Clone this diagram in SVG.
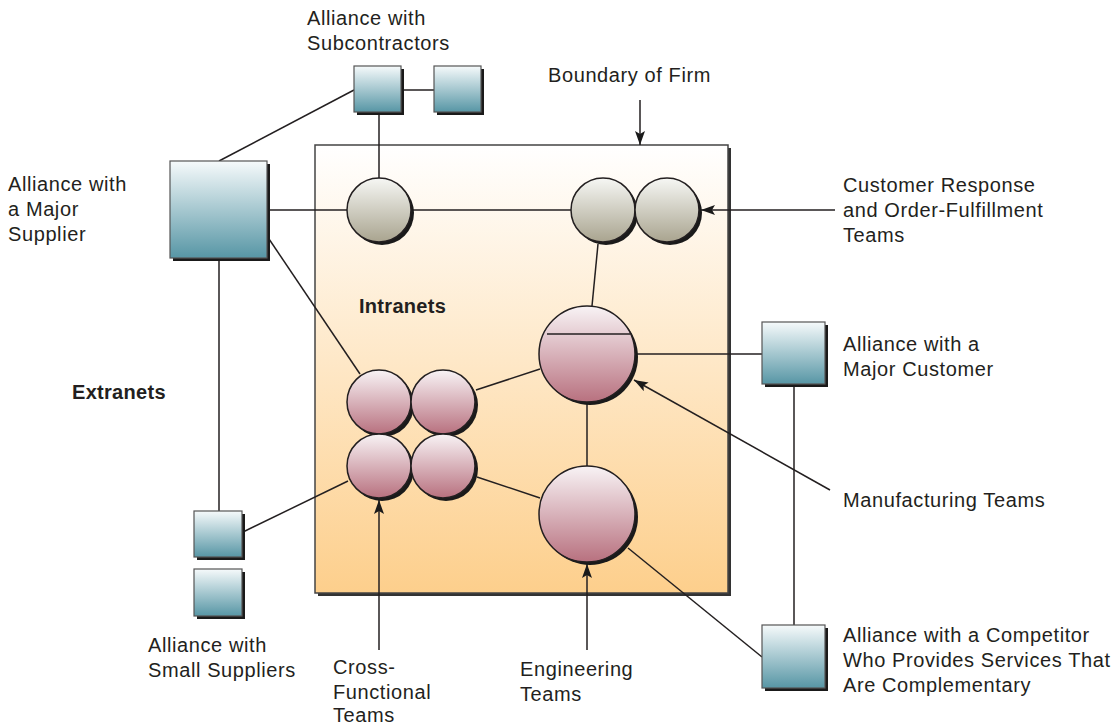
<svg xmlns="http://www.w3.org/2000/svg" width="1112" height="727" viewBox="0 0 1112 727">
<defs>
<linearGradient id="gBox" x1="0" y1="0" x2="0" y2="1"><stop offset="0" stop-color="#f6fafb"/><stop offset="1" stop-color="#5796a5"/></linearGradient>
<linearGradient id="gGray" x1="0" y1="0" x2="0" y2="1"><stop offset="0" stop-color="#f6f7f4"/><stop offset="1" stop-color="#a9a48f"/></linearGradient>
<linearGradient id="gPink" x1="0" y1="0" x2="0" y2="1"><stop offset="0" stop-color="#f8f3f5"/><stop offset="1" stop-color="#b8717f"/></linearGradient>
<linearGradient id="gFirm" x1="0" y1="0" x2="0" y2="1"><stop offset="0" stop-color="#ffffff"/><stop offset="1" stop-color="#fdcf8c"/></linearGradient>
<marker id="arr" viewBox="0 0 14 10" refX="14" refY="5" markerWidth="14" markerHeight="10" markerUnits="userSpaceOnUse" orient="auto"><path d="M0,0 L14,5 L0,10 L3,5 Z" fill="#1a1a1a"/></marker>
</defs>
<style>
text{font-family:"Liberation Sans",Arial,sans-serif;font-size:20px;letter-spacing:0.6px;fill:#231f20}
.b{font-weight:bold;letter-spacing:0.3px}
.ln{stroke:#231f20;stroke-width:1.5;fill:none}
.box{fill:url(#gBox);stroke:#555;stroke-width:1.2}
.gc{fill:url(#gGray);stroke:#231f20;stroke-width:1.5}
.pc{fill:url(#gPink);stroke:#231f20;stroke-width:1.5}
.sh{fill:#1a1a1a}
</style>
<rect width="1112" height="727" fill="#fff"/>
<g id="firm">
<rect x="318" y="148" width="413" height="448" fill="#333"/>
<rect x="315" y="145" width="413" height="448" fill="url(#gFirm)" stroke="#444" stroke-width="1.5"/>
</g>
<g id="connectors">
<line class="ln" x1="354" y1="90" x2="219" y2="161"/>
<line class="ln" x1="401" y1="90" x2="434" y2="90"/>
<line class="ln" x1="379" y1="112" x2="379" y2="178"/>
<line class="ln" x1="267" y1="210" x2="347" y2="210"/>
<line class="ln" x1="411" y1="210" x2="571" y2="210"/>
<line class="ln" x1="267" y1="236" x2="360" y2="374"/>
<line class="ln" x1="219" y1="258" x2="219" y2="511"/>
<line class="ln" x1="243" y1="532" x2="348" y2="481"/>
<line class="ln" x1="598" y1="244" x2="592" y2="306"/>
<line class="ln" x1="476" y1="390" x2="540" y2="369"/>
<line class="ln" x1="635" y1="354" x2="762" y2="354"/>
<line class="ln" x1="587" y1="402" x2="587" y2="466"/>
<line class="ln" x1="477" y1="477" x2="540" y2="498"/>
<line class="ln" x1="628" y1="548" x2="762" y2="657"/>
<line class="ln" x1="794" y1="386" x2="794" y2="625"/>
<line class="ln" x1="640" y1="100" x2="640" y2="145" marker-end="url(#arr)"/>
<line class="ln" x1="835" y1="210" x2="701" y2="210" marker-end="url(#arr)"/>
<line class="ln" x1="830" y1="490" x2="634" y2="380" marker-end="url(#arr)"/>
<line class="ln" x1="379" y1="650" x2="379" y2="500" marker-end="url(#arr)"/>
<line class="ln" x1="587" y1="650" x2="587" y2="564" marker-end="url(#arr)"/>
</g>
<g id="sub1"><rect class="sh" x="357" y="69" width="47" height="46"/><rect class="box" x="354" y="66" width="47" height="46"/></g>
<g id="sub2"><rect class="sh" x="437" y="69" width="47" height="46"/><rect class="box" x="434" y="66" width="47" height="46"/></g>
<g id="supplier"><rect class="sh" x="173" y="164" width="97" height="97"/><rect class="box" x="170" y="161" width="97" height="97"/></g>
<g id="customer"><rect class="sh" x="765" y="325" width="63" height="62"/><rect class="box" x="762" y="322" width="63" height="62"/></g>
<g id="competitor"><rect class="sh" x="765" y="628" width="63" height="63"/><rect class="box" x="762" y="625" width="63" height="63"/></g>
<g id="small1"><rect class="sh" x="197" y="514" width="48" height="46"/><rect class="box" x="194" y="511" width="48" height="46"/></g>
<g id="small2"><rect class="sh" x="197" y="572" width="48" height="47"/><rect class="box" x="194" y="569" width="48" height="47"/></g>
<g id="circleA"><circle class="sh" cx="382" cy="213" r="32"/><circle class="gc" cx="379" cy="210" r="32"/></g>
<g id="customerTeams">
<circle class="sh" cx="606" cy="213" r="32"/><circle class="gc" cx="603" cy="210" r="32"/>
<circle class="sh" cx="670" cy="213" r="32"/><circle class="gc" cx="667" cy="210" r="32"/>
</g>
<g id="manufacturing"><circle class="sh" cx="590" cy="357" r="48"/><circle class="pc" cx="587" cy="354" r="48"/><line class="ln" x1="547" y1="334" x2="630" y2="334"/></g>
<g id="crossTeams">
<circle class="sh" cx="382" cy="405" r="32"/><circle class="pc" cx="379" cy="402" r="32"/>
<circle class="sh" cx="446" cy="405" r="32"/><circle class="pc" cx="443" cy="402" r="32"/>
<circle class="sh" cx="382" cy="469" r="32"/><circle class="pc" cx="379" cy="466" r="32"/>
<circle class="sh" cx="446" cy="469" r="32"/><circle class="pc" cx="443" cy="466" r="32"/>
</g>
<g id="engineering"><circle class="sh" cx="590" cy="517" r="48"/><circle class="pc" cx="587" cy="514" r="48"/></g>
<g id="labels">
<text x="307" y="25">Alliance with</text>
<text x="307" y="50">Subcontractors</text>
<text x="548" y="82">Boundary of Firm</text>
<text x="8" y="191">Alliance with</text>
<text x="8" y="216">a Major</text>
<text x="8" y="241">Supplier</text>
<text x="843" y="192">Customer Response</text>
<text x="843" y="217">and Order-Fulfillment</text>
<text x="843" y="242">Teams</text>
<text class="b" x="359" y="313">Intranets</text>
<text class="b" x="72" y="399">Extranets</text>
<text x="843" y="351">Alliance with a</text>
<text x="843" y="376">Major Customer</text>
<text x="843" y="507">Manufacturing Teams</text>
<text x="843" y="642">Alliance with a Competitor</text>
<text x="843" y="667">Who Provides Services That</text>
<text x="843" y="692">Are Complementary</text>
<text x="148" y="652">Alliance with</text>
<text x="148" y="677">Small Suppliers</text>
<text x="333" y="674">Cross-</text>
<text x="333" y="699">Functional</text>
<text x="333" y="722">Teams</text>
<text x="520" y="676">Engineering</text>
<text x="520" y="701">Teams</text>
</g>
</svg>
